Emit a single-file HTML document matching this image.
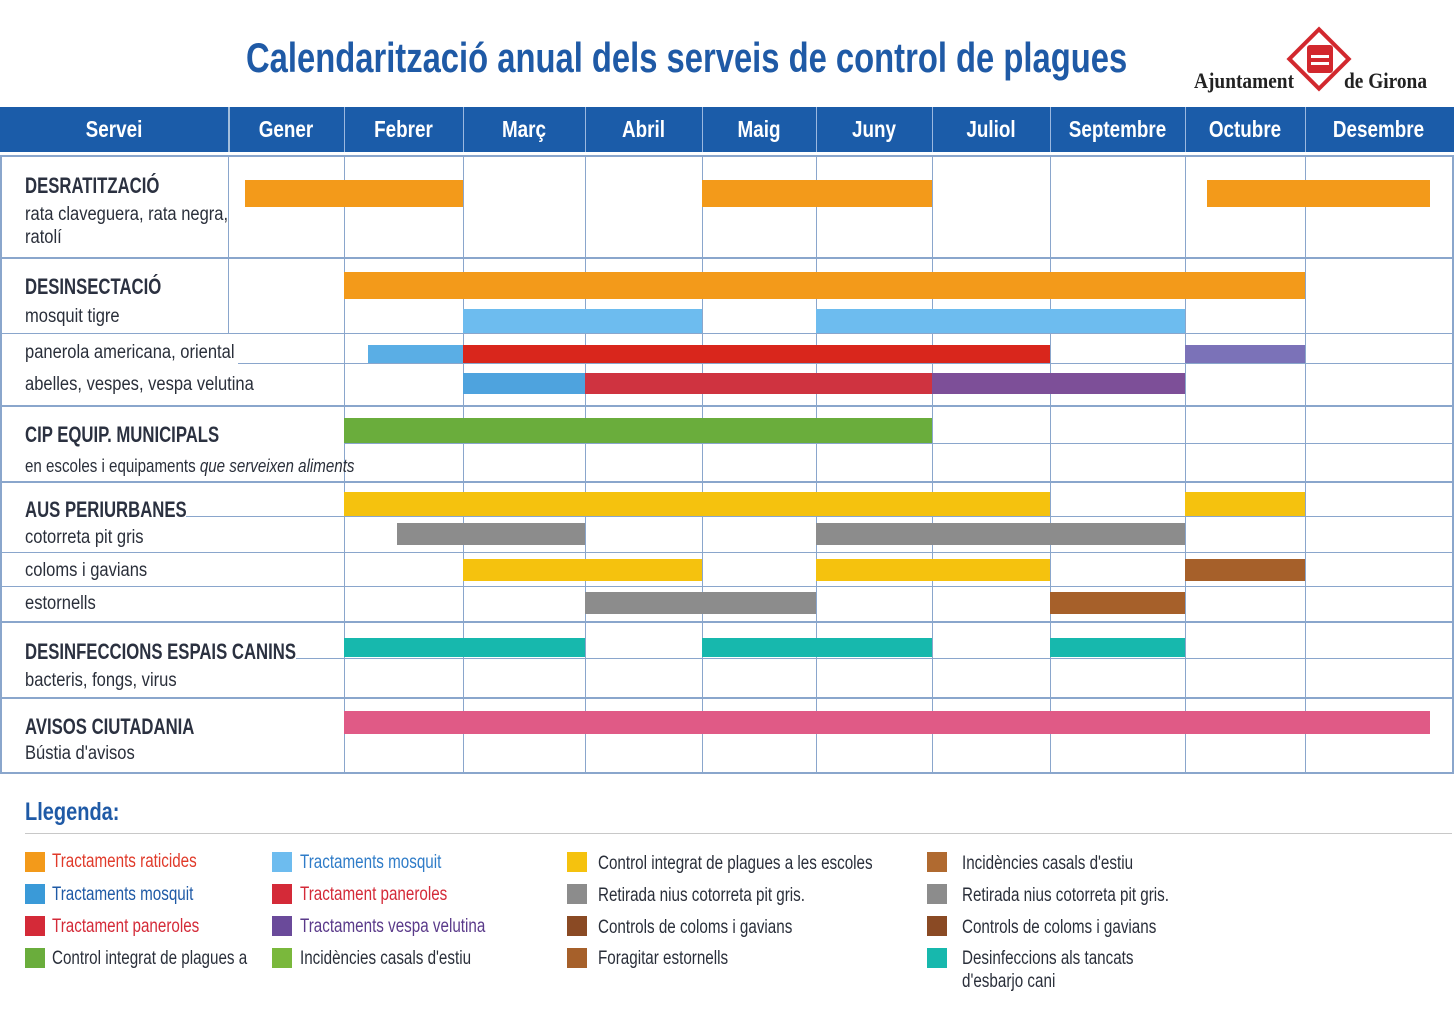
<!DOCTYPE html><html><head><meta charset="utf-8"><style>
body{margin:0;width:1454px;height:1024px;background:#fff;position:relative;overflow:hidden;font-family:"Liberation Sans Narrow","Liberation Sans",sans-serif;}
div{position:absolute;box-sizing:border-box}
.t{white-space:nowrap;color:#2a2f3a;transform-origin:0 0}
.b{font-weight:bold;font-size:22px;color:#2b3140;transform:scaleX(0.76)}
.s{font-size:19px;transform:scaleX(0.87)}
.hd{color:#fff;font-weight:bold;font-size:23px;text-align:center;top:116px;transform:scaleX(0.82)}
.v{width:1px;background:#8aa6cc}
.h{height:1px;background:#8aa6cc}
.sq{width:20px;height:20px}
.lg{font-size:19px;white-space:nowrap;transform:scaleX(0.8);transform-origin:0 0}
</style></head><body>
<div class="t" style="left:246px;top:34px;font-size:42px;font-weight:bold;color:#1f5aa6;transform:scaleX(0.78)">Calendarització anual dels serveis de control de plagues</div>
<div class="t" style="left:1194px;top:68px;font-family:'Liberation Serif',serif;font-size:22px;font-weight:bold;color:#222;transform:scaleX(0.88)">Ajuntament</div>
<div class="t" style="left:1344px;top:68px;font-family:'Liberation Serif',serif;font-size:22px;font-weight:bold;color:#222;transform:scaleX(0.88)">de Girona</div>
<div style="left:1296px;top:36px;width:46px;height:46px;transform:rotate(45deg);border:4px solid #d2282e;background:#fff"></div>
<div style="left:1307px;top:45px;width:26px;height:28px;background:#d2282e;border-radius:3px"></div>
<div style="left:1311px;top:55px;width:18px;height:3px;background:#fff"></div>
<div style="left:1311px;top:62px;width:18px;height:3px;background:#fff"></div>
<div style="left:0;top:107px;width:1454px;height:45px;background:#1b5ca9"></div>
<div class="hd" style="left:0;width:228px">Servei</div>
<div class="hd" style="left:228px;width:116px">Gener</div>
<div class="hd" style="left:344px;width:119px">Febrer</div>
<div class="hd" style="left:463px;width:122px">Març</div>
<div class="hd" style="left:585px;width:117px">Abril</div>
<div class="hd" style="left:702px;width:114px">Maig</div>
<div class="hd" style="left:816px;width:116px">Juny</div>
<div class="hd" style="left:932px;width:118px">Juliol</div>
<div class="hd" style="left:1050px;width:135px">Septembre</div>
<div class="hd" style="left:1185px;width:120px">Octubre</div>
<div class="hd" style="left:1305px;width:147px">Desembre</div>
<div style="left:0;top:155px;width:1454px;height:619px;border:2px solid #8aa6cc"></div>
<div style="left:228px;top:107px;width:2px;height:45px;background:#fff;opacity:.6"></div>
<div class="v" style="left:228px;top:155px;height:178px"></div>
<div class="v" style="left:344px;top:155px;height:618px"></div>
<div class="v" style="left:463px;top:155px;height:618px"></div>
<div class="v" style="left:585px;top:155px;height:618px"></div>
<div class="v" style="left:702px;top:155px;height:618px"></div>
<div class="v" style="left:816px;top:155px;height:618px"></div>
<div class="v" style="left:932px;top:155px;height:618px"></div>
<div class="v" style="left:1050px;top:155px;height:618px"></div>
<div class="v" style="left:1185px;top:155px;height:618px"></div>
<div class="v" style="left:1305px;top:155px;height:618px"></div>
<div style="left:344px;top:107px;width:1px;height:45px;background:#9bb8e0"></div>
<div style="left:463px;top:107px;width:1px;height:45px;background:#9bb8e0"></div>
<div style="left:585px;top:107px;width:1px;height:45px;background:#9bb8e0"></div>
<div style="left:702px;top:107px;width:1px;height:45px;background:#9bb8e0"></div>
<div style="left:816px;top:107px;width:1px;height:45px;background:#9bb8e0"></div>
<div style="left:932px;top:107px;width:1px;height:45px;background:#9bb8e0"></div>
<div style="left:1050px;top:107px;width:1px;height:45px;background:#9bb8e0"></div>
<div style="left:1185px;top:107px;width:1px;height:45px;background:#9bb8e0"></div>
<div style="left:1305px;top:107px;width:1px;height:45px;background:#9bb8e0"></div>
<div class="h" style="left:0;top:257px;width:1454px;height:2px"></div>
<div class="h" style="left:0;top:333px;width:1454px"></div>
<div class="h" style="left:238px;top:363px;width:1216px"></div>
<div class="h" style="left:0;top:405px;width:1454px;height:2px"></div>
<div class="h" style="left:344px;top:443px;width:1110px"></div>
<div class="h" style="left:0;top:481px;width:1454px;height:2px"></div>
<div class="h" style="left:186px;top:516px;width:1268px"></div>
<div class="h" style="left:0;top:552px;width:1454px"></div>
<div class="h" style="left:0;top:586px;width:1454px"></div>
<div class="h" style="left:0;top:621px;width:1454px;height:2px"></div>
<div class="h" style="left:296px;top:658px;width:1158px"></div>
<div class="h" style="left:0;top:697px;width:1454px;height:2px"></div>
<div class="t b" style="left:25px;top:173px">DESRATITZACIÓ</div>
<div class="t s" style="left:25px;top:204px">rata claveguera, rata negra,</div>
<div class="t s" style="left:25px;top:227px">ratolí</div>
<div class="t b" style="left:25px;top:274px">DESINSECTACIÓ</div>
<div class="t s" style="left:25px;top:306px">mosquit tigre</div>
<div class="t s" style="left:25px;top:342px">panerola americana, oriental</div>
<div class="t s" style="left:25px;top:374px">abelles, vespes, vespa velutina</div>
<div class="t b" style="left:25px;top:422px">CIP EQUIP. MUNICIPALS</div>
<div class="t s" style="left:25px;top:456px;font-size:18px;transform:scaleX(0.84)">en escoles i equipaments <i>que serveixen aliments</i></div>
<div class="t b" style="left:25px;top:497px">AUS PERIURBANES</div>
<div class="t s" style="left:25px;top:527px">cotorreta pit gris</div>
<div class="t s" style="left:25px;top:560px">coloms i gavians</div>
<div class="t s" style="left:25px;top:593px">estornells</div>
<div class="t b" style="left:25px;top:639px">DESINFECCIONS ESPAIS CANINS</div>
<div class="t s" style="left:25px;top:670px">bacteris, fongs, virus</div>
<div class="t b" style="left:25px;top:714px">AVISOS CIUTADANIA</div>
<div class="t s" style="left:25px;top:743px">Bústia d'avisos</div>
<!-- bars -->
<div style="left:245px;top:180px;width:218px;height:27px;background:#f39a1a"></div>
<div style="left:702px;top:180px;width:230px;height:27px;background:#f39a1a"></div>
<div style="left:1207px;top:180px;width:223px;height:27px;background:#f39a1a"></div>
<div style="left:344px;top:272px;width:961px;height:27px;background:#f39a1a"></div>
<div style="left:463px;top:309px;width:239px;height:24px;background:#6dbcef"></div>
<div style="left:816px;top:309px;width:369px;height:24px;background:#6dbcef"></div>
<div style="left:368px;top:345px;width:95px;height:18px;background:#5aaee5"></div>
<div style="left:463px;top:345px;width:587px;height:18px;background:#d9261c"></div>
<div style="left:1185px;top:345px;width:120px;height:18px;background:#7b72b8"></div>
<div style="left:463px;top:373px;width:122px;height:21px;background:#4ea3de"></div>
<div style="left:585px;top:373px;width:347px;height:21px;background:#cf3340"></div>
<div style="left:932px;top:373px;width:253px;height:21px;background:#7d4f98"></div>
<div style="left:344px;top:418px;width:588px;height:25px;background:#6aad3c"></div>
<div style="left:344px;top:492px;width:706px;height:24px;background:#f5c20e"></div>
<div style="left:1185px;top:492px;width:120px;height:24px;background:#f5c20e"></div>
<div style="left:397px;top:523px;width:188px;height:22px;background:#8c8c8c"></div>
<div style="left:816px;top:523px;width:369px;height:22px;background:#8c8c8c"></div>
<div style="left:463px;top:559px;width:239px;height:22px;background:#f5c20e"></div>
<div style="left:816px;top:559px;width:234px;height:22px;background:#f5c20e"></div>
<div style="left:1185px;top:559px;width:120px;height:22px;background:#a6602a"></div>
<div style="left:585px;top:592px;width:231px;height:22px;background:#8c8c8c"></div>
<div style="left:1050px;top:592px;width:135px;height:22px;background:#a6602a"></div>
<div style="left:344px;top:638px;width:241px;height:19px;background:#17b8ad"></div>
<div style="left:702px;top:638px;width:230px;height:19px;background:#17b8ad"></div>
<div style="left:1050px;top:638px;width:135px;height:19px;background:#17b8ad"></div>
<div style="left:344px;top:711px;width:1086px;height:23px;background:#e05a86"></div>
<!-- legend -->
<div class="t" style="left:25px;top:798px;font-size:25px;font-weight:bold;color:#1f5aa6;transform:scaleX(0.8)">Llegenda:</div>
<div style="left:25px;top:833px;width:1427px;height:1px;background:#c8c8c8"></div>
<div class="sq" style="left:25px;top:852px;background:#f39a1a"></div><div class="lg" style="left:52px;top:851px;color:#e03a2a">Tractaments raticides</div>
<div class="sq" style="left:25px;top:884px;background:#3a9ad8"></div><div class="lg" style="left:52px;top:884px;color:#1f5aa6">Tractaments mosquit</div>
<div class="sq" style="left:25px;top:916px;background:#d42a38"></div><div class="lg" style="left:52px;top:916px;color:#d42a38">Tractament paneroles</div>
<div class="sq" style="left:25px;top:948px;background:#6aad3c"></div><div class="lg" style="left:52px;top:948px;color:#2a2f3a">Control integrat de plagues a</div>
<div class="sq" style="left:272px;top:852px;background:#6dbcef"></div><div class="lg" style="left:300px;top:852px;color:#2f7cc8">Tractaments mosquit</div>
<div class="sq" style="left:272px;top:884px;background:#d42a38"></div><div class="lg" style="left:300px;top:884px;color:#d42a38">Tractament paneroles</div>
<div class="sq" style="left:272px;top:916px;background:#6a4a9a"></div><div class="lg" style="left:300px;top:916px;color:#5a3a8a">Tractaments vespa velutina</div>
<div class="sq" style="left:272px;top:948px;background:#7ab83c"></div><div class="lg" style="left:300px;top:948px;color:#2a2f3a">Incidències casals d'estiu</div>
<div class="sq" style="left:567px;top:852px;background:#f5c20e"></div><div class="lg" style="left:598px;top:853px;color:#2a2f3a">Control integrat de plagues a les escoles</div>
<div class="sq" style="left:567px;top:884px;background:#8c8c8c"></div><div class="lg" style="left:598px;top:885px;color:#2a2f3a">Retirada nius cotorreta pit gris.</div>
<div class="sq" style="left:567px;top:916px;background:#8a4a24"></div><div class="lg" style="left:598px;top:917px;color:#2a2f3a">Controls de coloms i gavians</div>
<div class="sq" style="left:567px;top:948px;background:#a6602a"></div><div class="lg" style="left:598px;top:948px;color:#2a2f3a">Foragitar estornells</div>
<div class="sq" style="left:927px;top:852px;background:#b06a30"></div><div class="lg" style="left:962px;top:853px;color:#2a2f3a">Incidències casals d'estiu</div>
<div class="sq" style="left:927px;top:884px;background:#8c8c8c"></div><div class="lg" style="left:962px;top:885px;color:#2a2f3a">Retirada nius cotorreta pit gris.</div>
<div class="sq" style="left:927px;top:916px;background:#8a4a24"></div><div class="lg" style="left:962px;top:917px;color:#2a2f3a">Controls de coloms i gavians</div>
<div class="sq" style="left:927px;top:948px;background:#17b8ad"></div><div class="lg" style="left:962px;top:948px;color:#2a2f3a">Desinfeccions als tancats</div>
<div class="lg" style="left:962px;top:971px;color:#2a2f3a">d'esbarjo cani</div>
</body></html>
